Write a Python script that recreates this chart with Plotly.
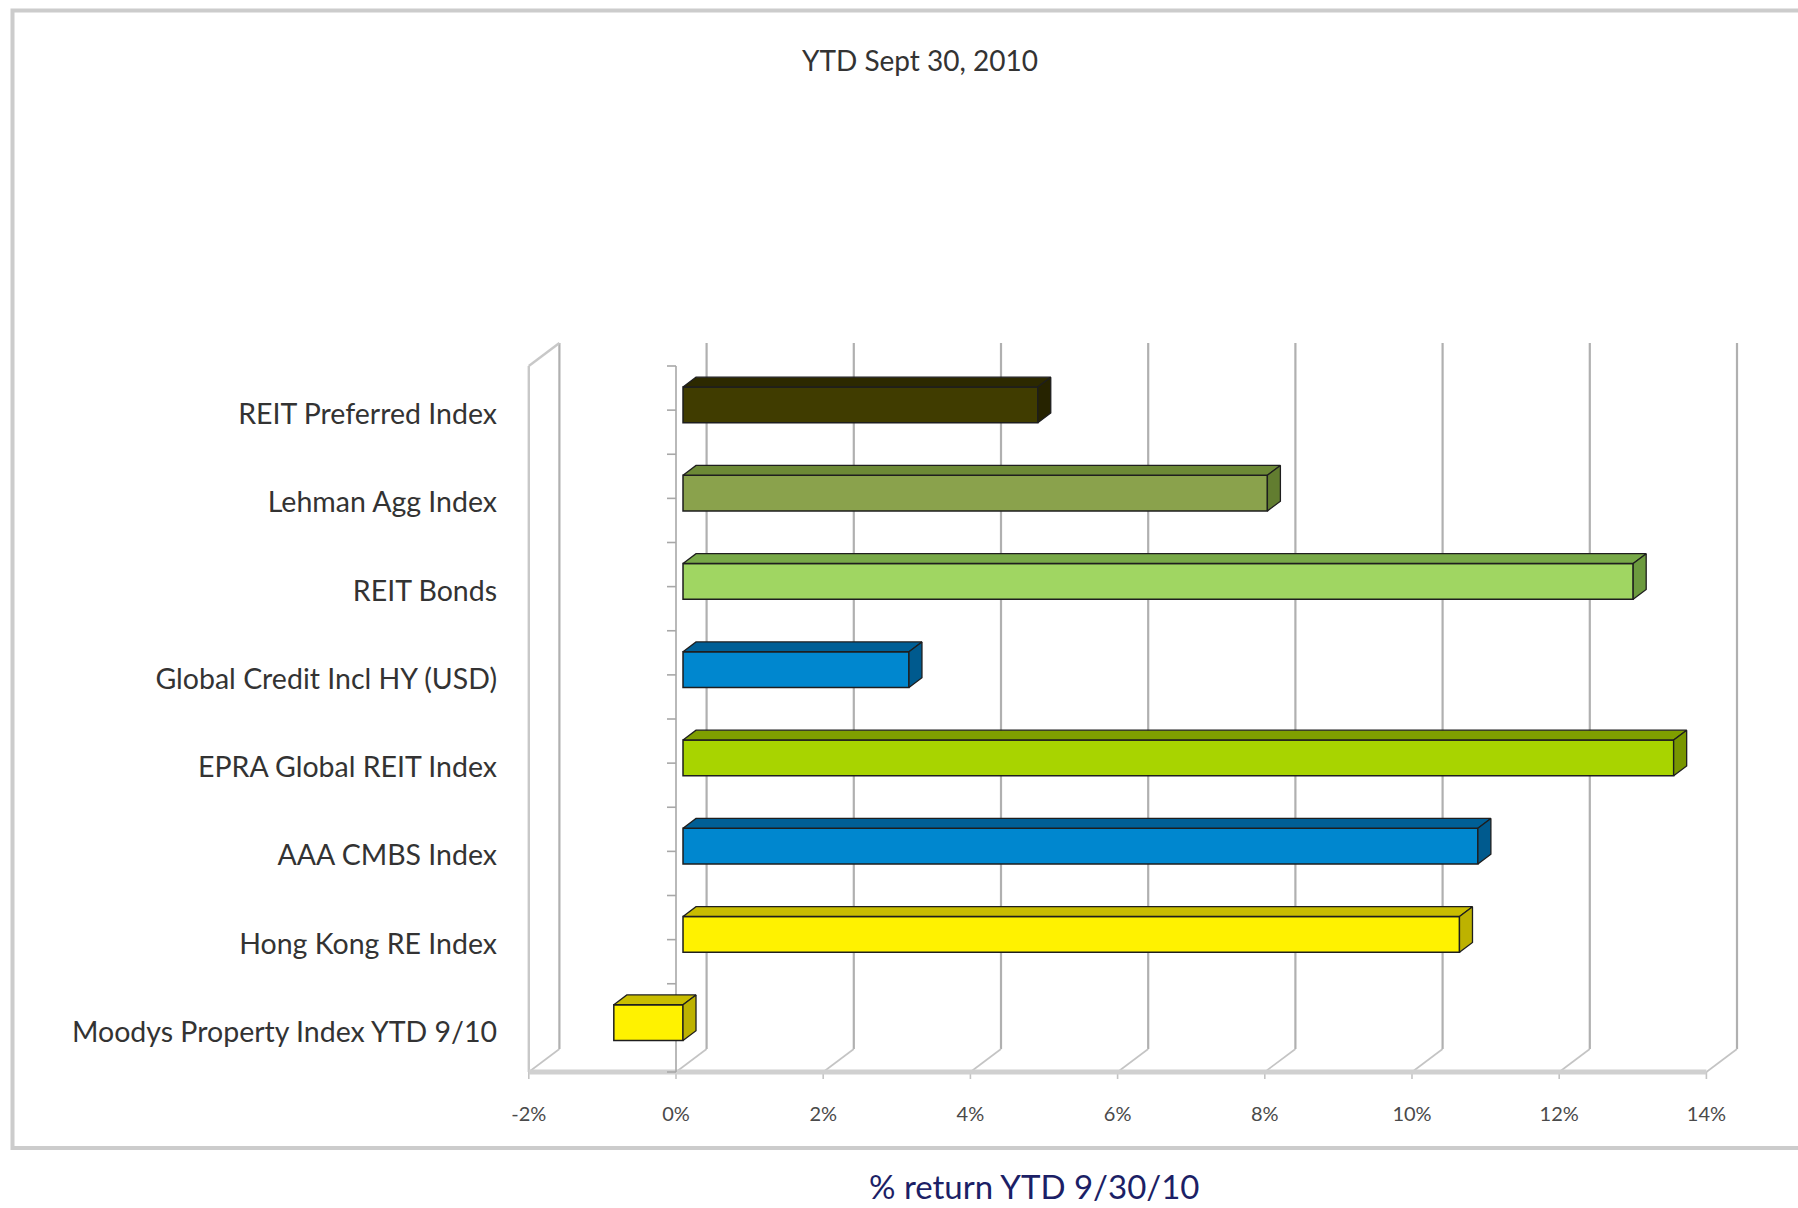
import plotly.graph_objects as go

# ---------------- data ----------------
categories = [
    "Moodys Property Index YTD 9/10",
    "Hong Kong RE Index",
    "AAA CMBS Index",
    "EPRA Global REIT Index",
    "Global Credit Incl HY (USD)",
    "REIT Bonds",
    "Lehman Agg Index",
    "REIT Preferred Index",
]
values = [-0.94, 10.55, 10.8, 13.46, 3.07, 12.91, 7.94, 4.82]
front_colors = ["#fff200", "#fff200", "#0087cf", "#a8d400", "#0087cf", "#a0d662", "#8aa24c", "#403c00"]
top_colors = ["#c9bd00", "#c9bd00", "#005f96", "#7f9f00", "#005f96", "#78a948", "#6c8936", "#2c2900"]
side_colors = ["#bdb200", "#bdb200", "#005a8e", "#789600", "#005a8e", "#6c9a3e", "#627d30", "#262300"]
tick_values = [-2, 0, 2, 4, 6, 8, 10, 12, 14]
tick_labels = ["-2%", "0%", "2%", "4%", "6%", "8%", "10%", "12%", "14%"]
chart_title = "YTD Sept 30, 2010"
axis_title = "% return YTD 9/30/10"

# ---------------- geometry / style ----------------
W, H = 1798, 1208
PX_PCT = 73.6          # pixels per 1 % on the front plane
PX_CAT = 88.25         # pixels per category
ZERO_PX = 676.0        # front plane 0 %
FLOOR_PX = 1072.0      # front floor
L, R, T, B = 520, 1760, 330, 1080

DX = 30.6 / PX_PCT     # depth offset (x, in % units)
DY = 23.0 / PX_CAT     # depth offset (y, in category units)
D1, D2 = 0.229, 0.654  # bar front / back depth
BAR_H = 0.405
LABEL_SHIFT = 4.0 / PX_CAT

xr = [(L - ZERO_PX) / PX_PCT, (R - ZERO_PX) / PX_PCT]
yr = [-0.5 - (B - FLOOR_PX) / PX_CAT, -0.5 + (FLOOR_PX - T) / PX_CAT]
n = len(categories)
ytop = n - 0.5
ybot = -0.5

fig = go.Figure()
shapes = []

def line(x0, y0, x1, y1, color, width, layer="below"):
    shapes.append(dict(type="line", xref="x", yref="y", x0=x0, y0=y0, x1=x1, y1=y1,
                       line=dict(color=color, width=width), layer=layer))

# back wall gridlines and floor diagonals
for t in tick_values:
    line(t + DX, ybot + DY, t + DX, ytop + DY, "#b0b0b0", 2.2)
    line(t, ybot, t + DX, ybot + DY, "#c4c4c4", 1.6)
    line(t, ybot, t, ybot - 7 / PX_CAT, "#c4c4c4", 1.6)
# left side wall
xmin = tick_values[0]
line(xmin, ybot, xmin, ytop, "#c8c8c8", 2.4)
line(xmin, ytop, xmin + DX, ytop + DY, "#c8c8c8", 2.4)
# floor front edge
line(tick_values[0], ybot, tick_values[-1], ybot, "#d0d0d0", 5)
# category axis with ticks at half-category steps
line(0, ybot, 0, ytop, "#a8a8a8", 1.6)
k = 0
while ybot + k * 0.5 <= ytop + 1e-9:
    yy = ybot + k * 0.5
    line(0, yy, -9 / PX_PCT, yy, "#a8a8a8", 1.6)
    k += 1

# front faces of bars
ypos = [i + DY * D1 for i in range(n)]
fig.add_trace(go.Bar(
    orientation="h", y=ypos, x=values, base=[DX * D1] * n, width=BAR_H,
    marker=dict(color=front_colors, line=dict(color="#1e1e1e", width=1.5)),
    hoverinfo="skip", showlegend=False,
))

# top and side faces
for i, v in enumerate(values):
    x0 = min(0, v)
    x1 = max(0, v)
    yc = i
    yt = yc + BAR_H / 2
    yb = yc - BAR_H / 2
    tx = [x0 + DX * D1, x1 + DX * D1, x1 + DX * D2, x0 + DX * D2, x0 + DX * D1]
    ty = [yt + DY * D1, yt + DY * D1, yt + DY * D2, yt + DY * D2, yt + DY * D1]
    fig.add_trace(go.Scatter(x=tx, y=ty, mode="lines", fill="toself", fillcolor=top_colors[i],
                             line=dict(color="#1e1e1e", width=1.3), hoverinfo="skip", showlegend=False))
    sx = [x1 + DX * D1, x1 + DX * D2, x1 + DX * D2, x1 + DX * D1, x1 + DX * D1]
    sy = [yb + DY * D1, yb + DY * D2, yt + DY * D2, yt + DY * D1, yb + DY * D1]
    fig.add_trace(go.Scatter(x=sx, y=sy, mode="lines", fill="toself", fillcolor=side_colors[i],
                             line=dict(color="#1e1e1e", width=1.3), hoverinfo="skip", showlegend=False))

pw, ph = R - L, B - T
def px_x(p):
    return (p - L) / pw
def px_y(p):
    return (B - p) / ph

# outer frame
shapes.append(dict(type="rect", xref="paper", yref="paper",
                   x0=px_x(12.5), x1=px_x(1830), y0=px_y(1148), y1=px_y(10.5),
                   line=dict(color="#cccccc", width=4), layer="below"))

fig.update_layout(
    width=W, height=H,
    margin=dict(l=L, r=W - R, t=T, b=H - B, pad=0),
    paper_bgcolor="white", plot_bgcolor="rgba(0,0,0,0)",
    shapes=shapes,
    barmode="overlay",
    font=dict(family="Lato", color="#333333"),
    xaxis=dict(range=xr, showgrid=False, zeroline=False, showline=False,
               tickvals=tick_values, ticktext=tick_labels, ticks="",
               tickfont=dict(family="Lato", size=20, color="#4a4a4a"),
               ticklabelstandoff=20, fixedrange=True),
    yaxis=dict(range=yr, showgrid=False, zeroline=False, showline=False,
               tickvals=[i - LABEL_SHIFT for i in range(n)], ticktext=categories, ticks="",
               tickfont=dict(family="Lato", size=28.5, color="#333333"),
               ticklabelstandoff=22, fixedrange=True),
    annotations=[
        dict(text=chart_title, xref="paper", yref="paper", x=px_x(920), y=px_y(60),
             showarrow=False, font=dict(family="Lato", size=28, color="#333333"),
             xanchor="center", yanchor="middle"),
        dict(text=axis_title, xref="paper", yref="paper", x=px_x(1034), y=px_y(1186),
             showarrow=False, font=dict(family="Lato", size=33, color="#1c1f66"),
             xanchor="center", yanchor="middle"),
    ],
)

fig.write_html("out.html")
